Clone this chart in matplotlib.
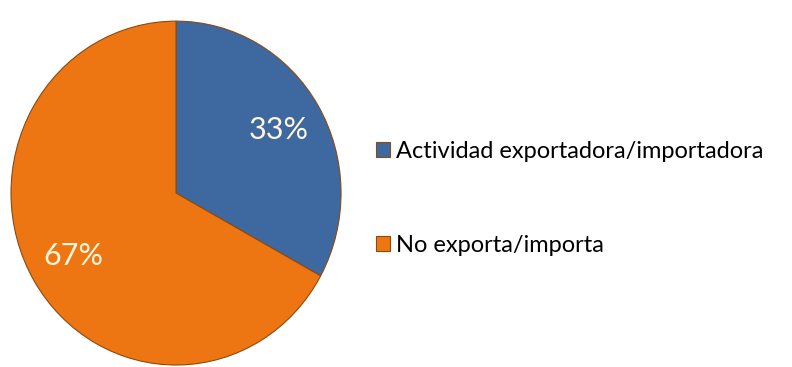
import matplotlib.pyplot as plt

# data
categories = ['Actividad exportadora/importadora', 'No exporta/importa']
shares = [33, 67]
colors = ['#3D68A0', '#EE7612']

fig = plt.figure(figsize=(7.92, 3.67), dpi=100)
ax = fig.add_axes([0.0139, 0.0054, 0.4167, 0.937])

wedges, texts, autotexts = ax.pie(
    shares, colors=colors, startangle=90, counterclock=False,
    autopct='%d%%', pctdistance=0.72,
    wedgeprops=dict(edgecolor='#8a4a10', linewidth=0.8),
    textprops=dict(color='#FFF6DC', fontsize=22, family='Lato'))
ax.set_aspect('auto')
ax.set_xlim(-1, 1)
ax.set_ylim(-1, 1)
ax.axis('off')

fig.legend(wedges, categories, loc='upper left', bbox_to_anchor=(0.448, 0.675),
           frameon=False, handlelength=0.6, handleheight=0.6, handletextpad=0.25,
           labelspacing=3.1, prop=dict(family='Lato', size=17))

fig.savefig('out.png', dpi=100)
